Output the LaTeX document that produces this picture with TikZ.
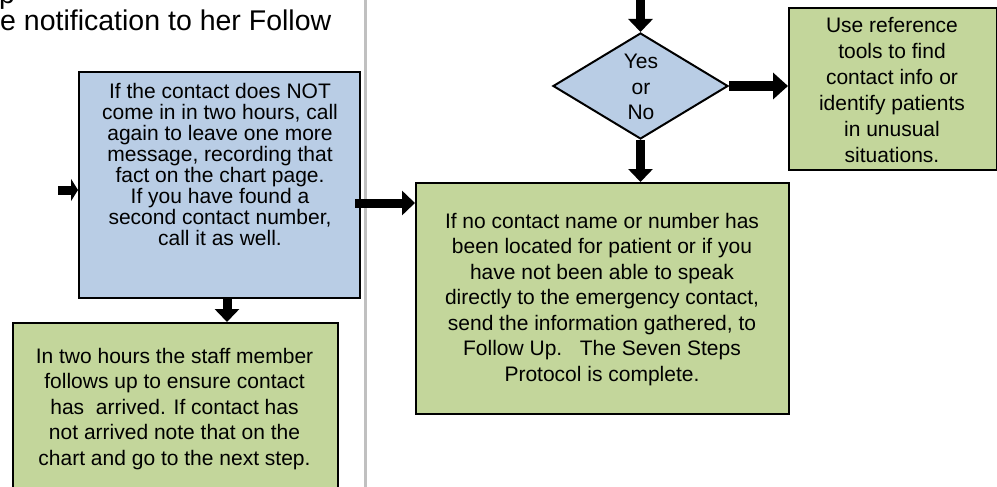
\documentclass[tikz,border=0pt]{standalone}
\usepackage{fontspec}
\setmainfont{Liberation Sans}
\usetikzlibrary{arrows.meta,shapes.geometric}
\definecolor{boxblue}{HTML}{B9CDE5}
\definecolor{boxgreen}{HTML}{C3D69B}
\definecolor{rulegray}{HTML}{C0C0C0}

\begin{document}
\begin{tikzpicture}[x=1pt,y=-1pt,
  box/.style={draw=black, line width=2pt, inner sep=0pt, anchor=north west},
  bluebox/.style={box, fill=boxblue},
  greenbox/.style={box, fill=boxgreen},
  txt/.style={inner sep=0pt, align=center, anchor=north, font=\fontsize{21}{25.5}\selectfont},
  blk/.style={line width=9pt, -{Triangle[width=24pt,length=13pt]}}
]
\useasboundingbox (0,0) rectangle (997,487);
\clip (0,0) rectangle (997,487);

% page text running above the chart
\node[anchor=base west, inner sep=0pt, font=\fontsize{28.5}{33}\selectfont] (prev) at (-1,4) {p};
\node[anchor=base west, inner sep=0pt, font=\fontsize{28.5}{33}\selectfont] (head) at (0,31) {e notification to her Follow};

% column rule
\draw[rulegray, line width=3pt] (365,0) -- (365,487);

% boxes
\node[bluebox, minimum width=281, minimum height=226] (blue) at (78,71) {};
\node[greenbox, minimum width=325, minimum height=200] (low) at (12,322) {};
\node[greenbox, minimum width=373, minimum height=231] (big) at (415,182) {};
\node[greenbox, minimum width=208, minimum height=162] (ur) at (788,7) {};
\node[diamond, draw=black, line width=2pt, fill=boxblue, inner sep=0pt,
      minimum width=175, minimum height=106] (dia) at (640.5,86) {};

% box texts
\node[txt, font=\fontsize{21}{21}\selectfont] (blueT) at (220,82.7) {If the contact does NOT\\come in in two hours, call\\again to leave one more\\message, recording that\\fact on the chart page.\\If you have found a\\second contact number,\\call it as well.};
\node[txt] (lowT) at (174.5,347.7) {In two hours the staff member\\follows up to ensure contact\\has\ \ arrived. If contact has\\not arrived note that on the\\chart and go to the next step.};
\node[txt] (bigT) at (602,212.7) {If no contact name or number has\\been located for patient or if you\\have not been able to speak\\directly to the emergency contact,\\send the information gathered, to\\Follow Up.\ \ \ The Seven Steps\\Protocol is complete.};
\node[txt, font=\fontsize{21}{26}\selectfont] (urT) at (892,16.7) {Use reference\\tools to find\\contact info or\\identify patients\\in unusual\\situations.};
\node[txt] (diaT) at (641,54) {Yes\\or\\No};

% connectors
\coordinate (topin) at (640.5,0);
\coordinate (leftin) at (58,190);
\draw[blk] (topin) -- (dia.north);
\draw[blk] (dia.south) -- (dia.south |- big.north);
\draw[blk, line width=10pt, -{Triangle[width=26pt,length=15pt]}] (dia.east) -- (dia.east -| ur.west);
\draw[blk, -{Triangle[width=22pt,length=7pt]}] (leftin) -- (leftin -| blue.west);
\draw[blk] ([xshift=-6pt,yshift=-18pt]blue.east) -- ([yshift=-18pt]blue.east -| big.west);
\draw[blk] ([xshift=7.5pt]blue.south) -- ([xshift=7.5pt]blue.south |- low.north);
\end{tikzpicture}
\end{document}
